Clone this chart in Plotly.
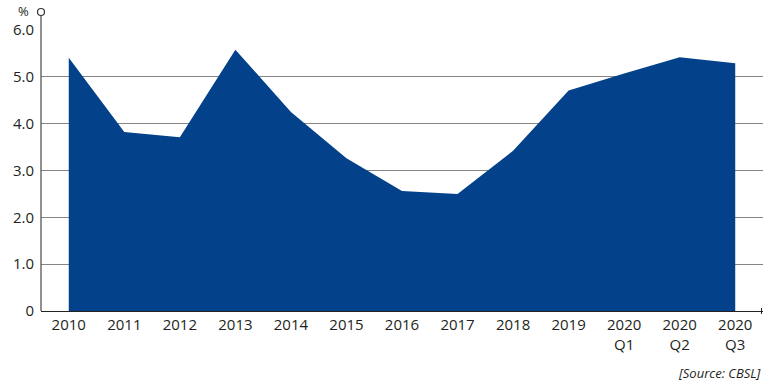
import plotly.graph_objects as go

categories = ["2010", "2011", "2012", "2013", "2014", "2015", "2016", "2017", "2018", "2019",
              "2020<br>Q1", "2020<br>Q2", "2020<br>Q3"]
values = [5.41, 3.82, 3.71, 5.58, 4.25, 3.26, 2.56, 2.50, 3.42, 4.71, 5.07, 5.42, 5.29]
y_ticks = [0, 1, 2, 3, 4, 5, 6]
y_ticktext = ["0", "1.0", "2.0", "3.0", "4.0", "5.0", "6.0"]

FONT = "Open Sans"
TXT = "#231f20"
xs = list(range(len(categories)))

fig = go.Figure()
fig.add_trace(go.Scatter(
    x=xs, y=values, mode="lines", fill="tozeroy",
    fillcolor="#03428a", line=dict(width=0, color="#03428a"),
    hoverinfo="skip", showlegend=False,
))

W, H = 765, 381
L, R, T, B = 41, 2, 30, 70
pw, ph = W - L - R, H - T - B

def py(p):
    return (H - B - p) / ph

fig.update_layout(
    width=W, height=H,
    margin=dict(l=L, r=R, t=T, b=B),
    paper_bgcolor="white", plot_bgcolor="white",
    font=dict(family=FONT, size=15, color=TXT),
    xaxis=dict(
        range=[-0.5, len(categories) - 0.5],
        tickmode="array", tickvals=xs, ticktext=categories,
        showgrid=False, zeroline=False,
        showline=True, linecolor="#222222", linewidth=1,
        ticks="", tickfont=dict(family=FONT, size=15, color=TXT),
    ),
    yaxis=dict(
        range=[0, 6], tickmode="array", tickvals=y_ticks, ticktext=y_ticktext,
        showgrid=True, gridcolor="#858585", gridwidth=1,
        zeroline=False, showline=False, ticks="",
        ticklabelstandoff=6,
        tickfont=dict(family=FONT, size=15, color=TXT),
    ),
    shapes=[
        # y-axis line extended above plot
        dict(type="line", xref="paper", yref="paper", x0=0, x1=0, y0=0, y1=py(16),
             line=dict(color="#555555", width=1.3)),
        # circle at top of axis
        dict(type="circle", xref="paper", yref="paper",
             x0=-3.5 / pw, x1=3.5 / pw, y0=py(15.5), y1=py(8.5),
             line=dict(color="#333333", width=1.2), fillcolor="white"),
        # small tick at right end of x-axis
        dict(type="line", xref="paper", yref="paper", x0=1 - 1.5 / pw, x1=1 - 1.5 / pw,
             y0=py(314), y1=py(308), line=dict(color="#222222", width=1)),
    ],
    annotations=[
        dict(text="%", xref="paper", yref="paper", x=-10 / pw, y=py(11),
             xanchor="right", yanchor="middle", showarrow=False,
             font=dict(family=FONT, size=13, color=TXT)),
        dict(text="<i>[Source: CBSL]</i>", xref="paper", yref="paper", x=1, y=py(373),
             xanchor="right", yanchor="middle", showarrow=False,
             font=dict(family=FONT, size=13, color=TXT)),
    ],
)

fig.write_html("out.html")
